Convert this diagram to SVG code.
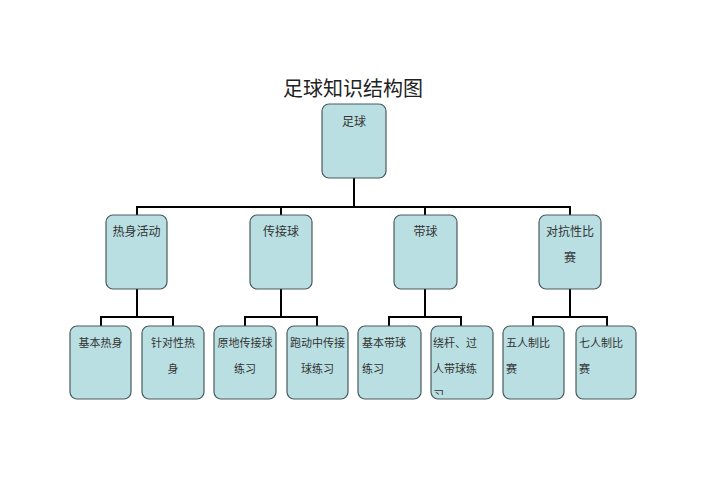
<svg xmlns="http://www.w3.org/2000/svg" width="707" height="500" viewBox="0 0 707 500">
<defs>
<style>
.box{fill:#b9dfe2;stroke:#4a5a5c;stroke-width:1.2}
.t{font-family:"Noto Sans CJK SC","Liberation Serif",serif;fill:#333;font-size:11px}
.c{text-anchor:middle}
.l2{font-size:12px}
.title{font-family:"Noto Sans CJK SC","Liberation Sans",sans-serif;fill:#222;font-size:20px;text-anchor:middle}
.conn{fill:none;stroke:#000;stroke-width:2}
</style>
<clipPath id="clipA"><rect x="431" y="326" width="62" height="69"/></clipPath>
</defs>
<rect width="707" height="500" fill="#fff"/>
<text class="title" x="353" y="96">足球知识结构图</text>
<g id="connectors">
<path class="conn" d="M354 178V207M137 216V207H570V216M281 207V216M425 207V216"/>
<path class="conn" d="M137 289V317M101 326V317H173V326"/>
<path class="conn" d="M281 289V317M245 326V317H317V326"/>
<path class="conn" d="M425 289V317M389 326V317H461V326"/>
<path class="conn" d="M570 289V317M533 326V317H607V326"/>
</g>
<g id="root"><rect class="box" x="322" y="104" width="64" height="74" rx="7"/><text class="t c l2" x="354" y="126">足球</text></g>
<g id="n1"><rect class="box" x="106" y="215" width="61" height="74" rx="7"/><text class="t c l2" x="136.5" y="236">热身活动</text></g>
<g id="n2"><rect class="box" x="250" y="215" width="62" height="74" rx="7"/><text class="t c l2" x="281" y="236">传接球</text></g>
<g id="n3"><rect class="box" x="394" y="215" width="63" height="74" rx="7"/><text class="t c l2" x="425.5" y="236">带球</text></g>
<g id="n4"><rect class="box" x="539" y="215" width="62" height="74" rx="7"/><text class="t c l2" x="570" y="236">对抗性比</text><text class="t c l2" x="570" y="262">赛</text></g>
<g id="n11"><rect class="box" x="70" y="326" width="61" height="73" rx="7"/><text class="t c" x="100.5" y="347">基本热身</text></g>
<g id="n12"><rect class="box" x="142" y="326" width="62" height="73" rx="7"/><text class="t c" x="173" y="347">针对性热</text><text class="t c" x="173" y="373">身</text></g>
<g id="n21"><rect class="box" x="214" y="326" width="62" height="73" rx="7"/><text class="t c" x="245" y="347">原地传接球</text><text class="t c" x="245" y="373">练习</text></g>
<g id="n22"><rect class="box" x="287" y="326" width="61" height="73" rx="7"/><text class="t c" x="317.5" y="347">跑动中传接</text><text class="t c" x="317.5" y="373">球练习</text></g>
<g id="n31"><rect class="box" x="358" y="326" width="63" height="73" rx="7"/><text class="t" x="362" y="347">基本带球</text><text class="t" x="362" y="373">练习</text></g>
<g id="n32"><rect class="box" x="431" y="326" width="62" height="73" rx="7"/><text class="t" x="433" y="347">绕杆、过</text><text class="t" x="433" y="373">人带球练</text><text class="t" x="433" y="399" clip-path="url(#clipA)">习</text></g>
<g id="n41"><rect class="box" x="503" y="326" width="61" height="73" rx="7"/><text class="t" x="506" y="347">五人制比</text><text class="t" x="506" y="373">赛</text></g>
<g id="n42"><rect class="box" x="576" y="326" width="60" height="73" rx="7"/><text class="t" x="579" y="347">七人制比</text><text class="t" x="579" y="373">赛</text></g>
</svg>
